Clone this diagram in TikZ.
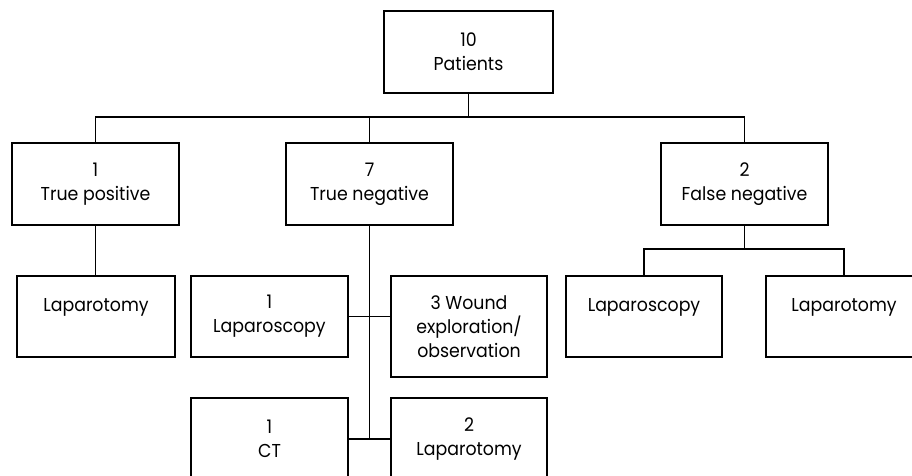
\documentclass[tikz,border=0pt]{standalone}
\usepackage{fontspec}
\setmainfont[FakeStretch=0.93]{Poppins}
\begin{document}
\begin{tikzpicture}[x=0.75pt,y=-0.75pt,
  box/.style={draw,line width=0.9pt,inner sep=0pt,align=center,
    font=\fontsize{14}{18}\selectfont},
  conn/.style={line width=0.9pt}]
\clip (0,0) rectangle (912,475);
\fill[white] (0,0) rectangle (912,475);
% level 0
\node[box,minimum width=169*0.75pt,minimum height=82*0.75pt] (P) at (468.5,52) {10\\Patients};
% level 1
\node[box,minimum width=167*0.75pt,minimum height=82*0.75pt] (TP) at (95.5,184) {1\\True positive};
\node[box,minimum width=167*0.75pt,minimum height=82*0.75pt] (TN) at (369.5,184) {7\\True negative};
\node[box,minimum width=167*0.75pt,minimum height=82*0.75pt] (FN) at (744.5,184) {2\\False negative};
% level 2
\node[box,minimum width=158*0.75pt,minimum height=81*0.75pt] (L1) at (96,316.5) {Laparotomy\\\phantom{X}};
\node[box,minimum width=157*0.75pt,minimum height=81*0.75pt] (LS1) at (269.5,316.5) {1\\Laparoscopy};
\node[box,minimum width=156*0.75pt,minimum height=101*0.75pt] (W) at (469,326.5) {3 Wound\\exploration/\\observation};
\node[box,minimum width=157*0.75pt,minimum height=82*0.75pt] (CT) at (269.5,439) {1\\CT};
\node[box,minimum width=156*0.75pt,minimum height=82*0.75pt] (L2) at (469,439) {2\\Laparotomy};
\node[box,minimum width=156*0.75pt,minimum height=81*0.75pt] (LS2) at (644,316.5) {Laparoscopy\\\phantom{X}};
\node[box,minimum width=156*0.75pt,minimum height=81*0.75pt] (L3) at (844,316.5) {Laparotomy\\\phantom{X}};
% connectors
\coordinate (bus1) at (468.5,117);
\coordinate (bus2) at (744.5,249);
\coordinate (tnend) at (369.5,439);
\draw[conn] (P.south) -- (bus1);
\draw[conn] (TP.north) |- (bus1);
\draw[conn] (FN.north) |- (bus1);
\draw[conn] (TN.north) -- (TN.north |- bus1);
\draw[conn] (TP.south) -- (TP.south |- L1.north);
\draw[conn] (TN.south) -- (tnend);
\draw[conn] (LS1.east) -- (LS1.east -| W.west);
\draw[conn] (CT.east) -- (CT.east -| L2.west);
\draw[conn] (FN.south) -- (bus2);
\draw[conn] (LS2.north) |- (bus2);
\draw[conn] (L3.north) |- (bus2);
\end{tikzpicture}
\end{document}
